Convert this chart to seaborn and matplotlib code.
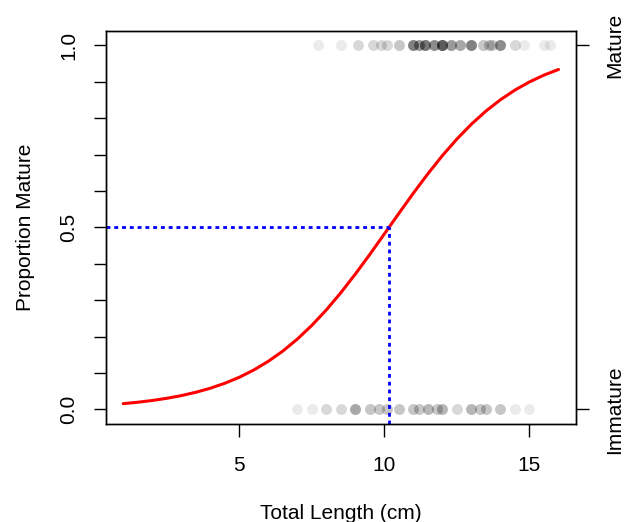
import numpy as np
import pandas as pd
import seaborn as sns
import matplotlib.pyplot as plt

sns.set_style("ticks")
plt.rcParams["font.family"] = ["Liberation Sans", "DejaVu Sans"]
plt.rcParams["text.color"] = "black"
plt.rcParams["axes.labelcolor"] = "black"
plt.rcParams["xtick.color"] = "black"
plt.rcParams["ytick.color"] = "black"
config = {"fontsize": 15}

mature_len = [7.7, 8.5, 9.1, 9.6, 9.9, 10.1, 10.5, 11.0, 11.2, 11.4, 11.7, 12.0,
              12.3, 12.6, 13.0, 13.4, 13.6, 13.7, 14.0, 14.5, 14.8, 15.5, 15.7]
mature_n = [1, 1, 2, 2, 2, 2, 3, 8, 6, 9, 7, 12, 6, 5, 8, 3, 3, 3, 7, 2, 1, 1, 1]
immature_len = [7.0, 7.5, 8.0, 8.5, 9.0, 9.5, 9.8, 10.1, 10.5, 11.0, 11.2, 11.5,
                11.8, 12.0, 12.5, 13.0, 13.3, 13.5, 14.0, 14.5, 15.0]
immature_n = [1, 1, 2, 2, 5, 3, 3, 3, 3, 3, 3, 4, 3, 4, 2, 4, 3, 3, 3, 1, 1]

# fitted curve
curve_len = [1, 1.5, 2, 2.5, 3, 3.5, 4, 4.5, 5, 5.5, 6, 6.5, 7, 7.5, 8, 8.5,
             9, 9.5, 10, 10.5, 11, 11.5, 12, 12.5, 13, 13.5, 14, 14.5, 15, 15.5, 16]
curve_prop = [0.0155, 0.0194, 0.0242, 0.0302, 0.0376, 0.0467, 0.0579, 0.0715,
              0.0880, 0.1080, 0.1319, 0.1600, 0.1929, 0.2306, 0.2732, 0.3204,
              0.3717, 0.4258, 0.4820, 0.5384, 0.5941, 0.6472, 0.6972, 0.7427,
              0.7836, 0.8195, 0.8506, 0.8772, 0.8996, 0.9183, 0.9337]
L50 = 10.16

pts = pd.DataFrame({
    "len": np.concatenate([np.repeat(mature_len, mature_n), np.repeat(immature_len, immature_n)]),
    "mat": np.concatenate([np.ones(sum(mature_n)), np.zeros(sum(immature_n))]),
})
curve = pd.DataFrame({"len": curve_len, "prop": curve_prop})

f = plt.figure(figsize=(6.26, 5.22), dpi=100)
ax = f.add_axes([0.169, 0.188, 0.751, 0.753])

sns.scatterplot(x="len", y="mat", data=pts, ax=ax, color="black", alpha=0.08,
                s=62, linewidth=0, legend=False)
sns.lineplot(x="len", y="prop", data=curve, ax=ax, color="red", lw=2.2)

xlim = (0.4, 16.6)
ylim = (-0.04, 1.04)
ax.set_xlim(*xlim)
ax.set_ylim(*ylim)
ax.hlines(0.5, xlim[0], L50, color="blue", lw=2.0, linestyle=(0, (1.4, 1.4)))
ax.vlines(L50, ylim[0], 0.5, color="blue", lw=2.0, linestyle=(0, (1.4, 1.4)))

ax.set_xticks([5, 10, 15])
ax.set_xticklabels(["5", "10", "15"])
yt = [i / 10 for i in range(11)]
ax.set_yticks(yt)
ax.set_yticklabels(["0.0", "", "", "", "", "0.5", "", "", "", "", "1.0"],
                   rotation=90, va="center")
ax.tick_params(axis="x", labelsize=15, length=9, width=1.0, pad=14)
ax.tick_params(axis="y", labelsize=15, length=9, width=1.0, pad=11)
ax.set_xlabel("Total Length (cm)", labelpad=21, **config)
ax.set_ylabel("Proportion Mature", labelpad=17, **config)

ax2 = ax.twinx()
ax2.set_ylim(*ylim)
ax2.set_yticks([0, 1])
ax2.set_yticklabels(["Immature", "Mature"], rotation=90, va="center")
ax2.tick_params(axis="y", labelsize=15, length=9, width=1.0, pad=12)

for a in (ax, ax2):
    for s in a.spines.values():
        s.set_visible(True)
        s.set_linewidth(1.0)
        s.set_color("black")

f.savefig("out.png", dpi=100)
